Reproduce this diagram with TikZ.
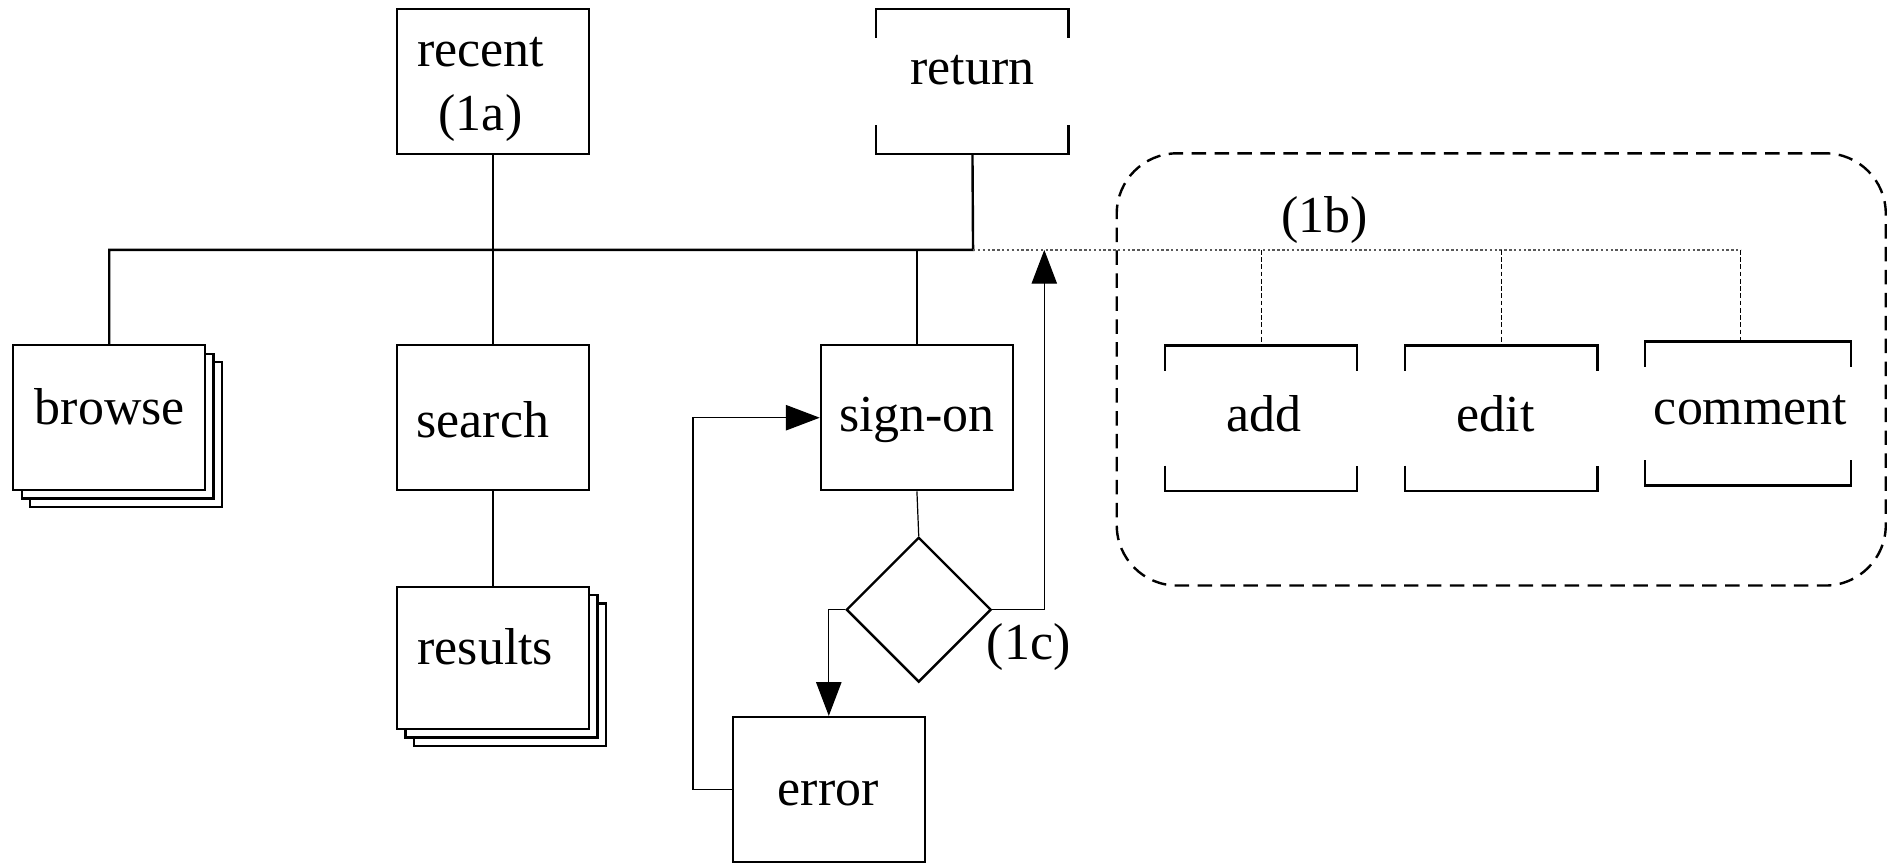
\documentclass[tikz,border=0pt]{standalone}
\usepackage{fontspec}
\setmainfont{Liberation Serif}
\usetikzlibrary{arrows.meta,shapes.geometric}
\begin{document}
\begin{tikzpicture}[x=1pt,y=-1pt,
  lbl/.style={font=\fontsize{43}{53}\selectfont,align=center,inner sep=0pt},
  box/.style={draw,line width=2pt,minimum width=159pt,minimum height=120pt,inner sep=0pt,fill=white},
  bracketbox/.style={minimum width=159pt,minimum height=120pt,inner sep=0pt},
  bk/.style={line width=2pt},
  stackbox/.style={draw,line width=2pt,fill=white},
  bus/.style={line width=2pt},
  thinline/.style={line width=1pt},
  arr/.style={-{Triangle[length=28pt,width=21pt]}},
  dotline/.style={line width=1pt,gray!70!black,dash pattern=on 2pt off 2pt},
  dashline/.style={line width=0.8pt,dash pattern=on 4pt off 2pt},
  grpbox/.style={draw,line width=2pt,dash pattern=on 12pt off 7pt,rounded corners=50pt,minimum width=637pt,minimum height=358pt,inner sep=0pt}
]
\useasboundingbox (0,0) rectangle (1568,717);

% group box
\node[grpbox] (grp) at (1243.5,306) {};
\node[lbl] (lb) at (1097,182) {(1b)};

% top boxes
\node[box] (recent) at (408.5,67.5) {};
\node[lbl] (recentt) at (398,74) {recent\\(1a)};
\node[bracketbox] (ret) at (805.5,67.5) {};
\node[lbl] (rett) at (805.5,58) {return};
\draw[bk] ([yshift=-24pt]ret.north west) |- (ret.north east) -- ++(0,24);
\draw[bk] ([yshift=24pt]ret.south west) |- (ret.south east) -- ++(0,-24);

% browse stack
\draw[stackbox] (25,300) rectangle ++(159,120);
\draw[stackbox] (18,293) rectangle ++(159,120);
\node[box] (browse) at (90.5,346) {};
\node[lbl] (browset) at (91,337) {browse};

% search
\node[box] (search) at (408.5,346) {};
\node[lbl] (searcht) at (400,348) {search};

% results stack
\draw[stackbox] (343,500) rectangle ++(159,118);
\draw[stackbox] (336,493) rectangle ++(159,118);
\node[box,minimum height=118pt] (results) at (408.5,545) {};
\node[lbl] (resultst) at (402,536) {results};

% sign-on
\node[box] (signon) at (759.5,346) {};
\node[lbl] (signont) at (759.5,348) {sign-on};

% decision
\node[draw,diamond,line width=2pt,minimum width=120pt,minimum height=120pt,inner sep=0pt] (dec) at (761,505) {};
\node[lbl] (lc) at (852,536) {(1c)};

% error
\node[box] (error) at (686.5,654) {};
\node[lbl] (errort) at (686,657) {error};

% bracket boxes in group
\node[bracketbox] (add) at (1044.5,346.5) {};
\node[lbl] (addt) at (1047,343) {add};
\node[bracketbox] (edit) at (1243.5,346.5) {};
\node[lbl] (editt) at (1239,343) {edit};
\node[bracketbox,minimum width=170pt,minimum height=119pt] (comment) at (1448,342.5) {};
\node[lbl] (commentt) at (1450,340) {comment};
\foreach \n in {add,edit,comment}{
  \draw[bk] ([yshift=-21pt]\n.north west) |- (\n.north east) -- ++(0,21);
  \draw[bk] ([yshift=21pt]\n.south west) |- (\n.south east) -- ++(0,-21);
}

% bus
\coordinate (j) at (806,207);
\coordinate (k) at (1442,207);
\draw[bus] (browse.north) |- (j) -- (ret.south);
\draw[bus] (recent.south) -- (search.north);
\draw[bus] (signon.north) -- (signon.north |- j);
\draw[bus] (search.south) -- (results.north);

% dotted extension
\draw[dotline] (j) -- (k);
\draw[dashline] (add.north |- j) -- (add.north);
\draw[dashline] (edit.north |- j) -- (edit.north);
\draw[dashline] (k) -- (k |- comment.north);

% decision connectors
\coordinate (up) at (865,207);
\draw[thinline] (signon.south) -- (dec.north);
\draw[thinline,arr] (dec.east) -| (up);
\draw[thinline,arr] (dec.west) -| (error.north);
\draw[thinline,arr] (error.west) -- ++(-32,0) |- (signon.west);
\end{tikzpicture}
\end{document}
